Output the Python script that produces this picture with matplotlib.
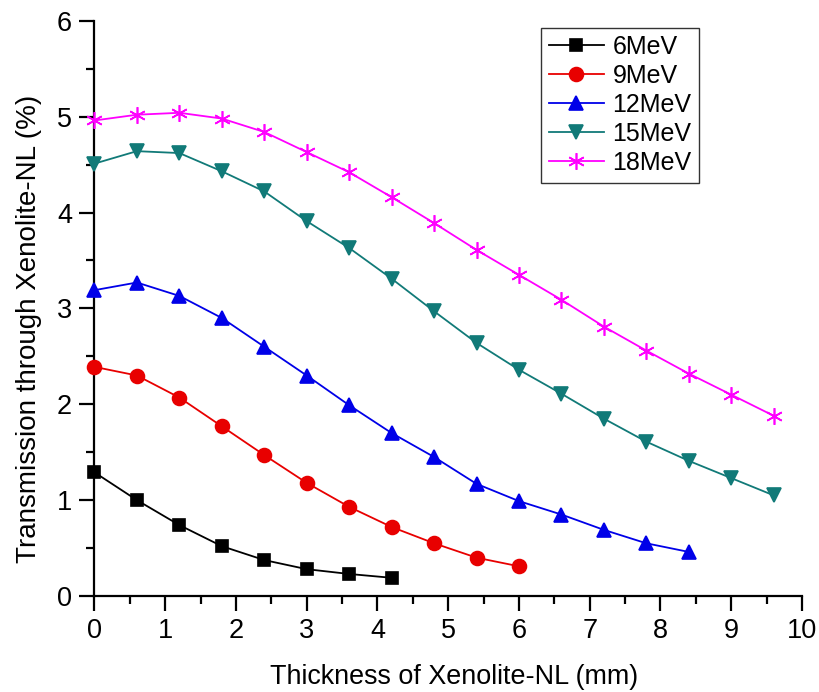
"""Transmission through Xenolite-NL vs thickness for several beam energies."""
import matplotlib
matplotlib.use("Agg")
import matplotlib.pyplot as plt
from matplotlib.ticker import MultipleLocator

plt.rcParams["font.family"] = ["Liberation Sans", "DejaVu Sans"]

thickness = [0.0, 0.6, 1.2, 1.8, 2.4, 3.0, 3.6, 4.2, 4.8, 5.4, 6.0,
             6.6, 7.2, 7.8, 8.4, 9.0, 9.6]

t_6mev = [1.29, 1.00, 0.74, 0.52, 0.375, 0.28, 0.23, 0.19]
t_9mev = [2.39, 2.30, 2.07, 1.77, 1.47, 1.18, 0.93, 0.72, 0.55, 0.40, 0.31]
t_12mev = [3.19, 3.27, 3.13, 2.90, 2.60, 2.30, 1.99, 1.70, 1.45, 1.17, 0.99,
           0.85, 0.69, 0.55, 0.46]
t_15mev = [4.51, 4.64, 4.62, 4.43, 4.22, 3.91, 3.63, 3.31, 2.97, 2.64, 2.36,
           2.11, 1.85, 1.61, 1.41, 1.23, 1.05]
t_18mev = [4.96, 5.02, 5.04, 4.98, 4.84, 4.63, 4.42, 4.16, 3.89, 3.61, 3.35,
           3.09, 2.81, 2.56, 2.32, 2.10, 1.88]

labels = ["6MeV", "9MeV", "12MeV", "15MeV", "18MeV"]
series = [t_6mev, t_9mev, t_12mev, t_15mev, t_18mev]
colors = ["black", "#e80000", "#0000e8", "#117a78", "#ff00ff"]
markers = ["s", "o", "^", "v", (6, 2, 0)]
msizes = [8.5, 10, 10.5, 10.5, 12]

fig = plt.figure(figsize=(8.2, 6.92), dpi=100)
ax = fig.add_axes([0.1152, 0.1387, 0.8628, 0.8313])

for vals, lab, c, m, ms in zip(series, labels, colors, markers, msizes):
    ax.plot(thickness[:len(vals)], vals, color=c, marker=m, markersize=ms,
            markeredgecolor=c, markerfacecolor=c, markeredgewidth=1.2,
            linewidth=1.3, label=lab, clip_on=False, zorder=3)

ax.set_xlim(0, 10)
ax.set_ylim(0, 6)
ax.xaxis.set_major_locator(MultipleLocator(1))
ax.xaxis.set_minor_locator(MultipleLocator(0.5))
ax.yaxis.set_major_locator(MultipleLocator(1))
ax.yaxis.set_minor_locator(MultipleLocator(0.5))
ax.tick_params(which="major", direction="out", length=11, width=1.6,
               labelsize=19.5, pad=5)
ax.tick_params(which="minor", direction="out", length=6, width=1.6)

for side in ("top", "right"):
    ax.spines[side].set_visible(False)
for side in ("left", "bottom"):
    ax.spines[side].set_linewidth(1.6)

ax.set_xlabel("Thickness of Xenolite-NL (mm)", fontsize=19.4)
ax.xaxis.set_label_coords(0.508, -0.153)
ax.xaxis.label.set_va("baseline")
ax.set_ylabel("Transmission through Xenolite-NL (%)", fontsize=20)
ax.yaxis.set_label_coords(-0.074, 0.465)

leg = ax.legend(loc="upper left", bbox_to_anchor=(0.6315, 0.988), fontsize=18,
                frameon=True, fancybox=False, edgecolor="black",
                handlelength=2.2, handletextpad=0.35, borderpad=0.3,
                labelspacing=0.2, borderaxespad=0)
leg.get_frame().set_linewidth(1.0)

fig.savefig("out.png", dpi=100)
